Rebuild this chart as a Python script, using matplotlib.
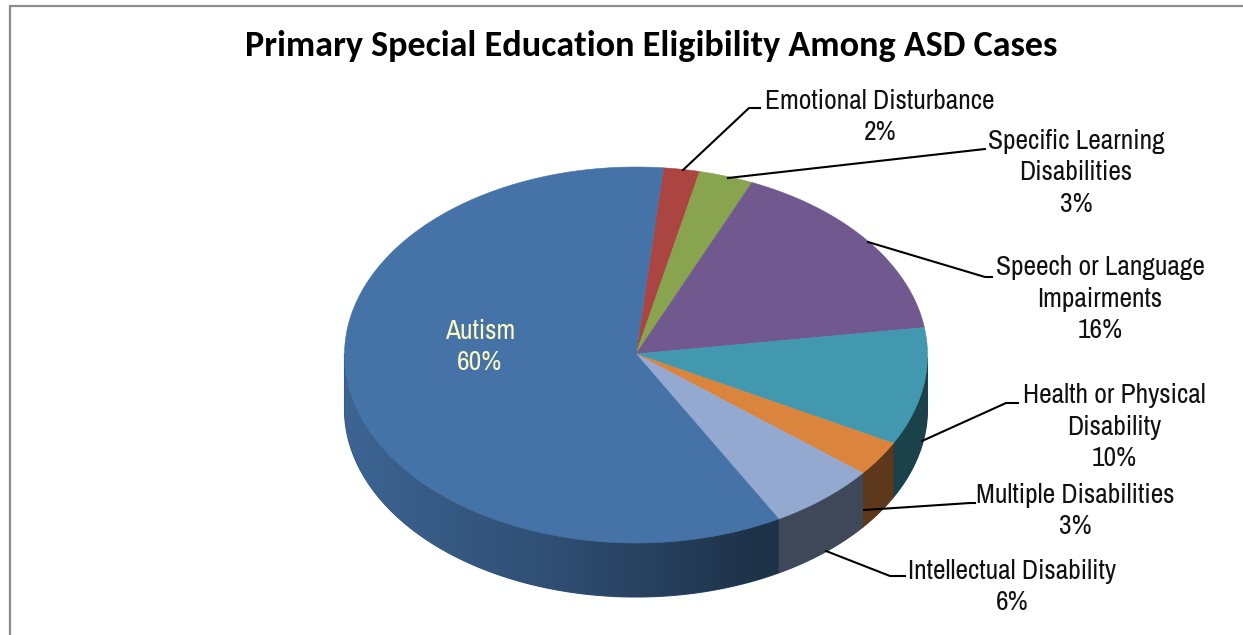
import numpy as np
import matplotlib
matplotlib.use("Agg")
import matplotlib.pyplot as plt
from matplotlib import font_manager as fm
from matplotlib.colors import to_rgb
from matplotlib.patches import Polygon

# data, clockwise starting from the top
names = ["Emotional Disturbance", "Specific Learning\nDisabilities",
         "Speech or Language\nImpairments", "Health or Physical\nDisability",
         "Multiple Disabilities", "Intellectual Disability", "Autism"]
values = [2, 3, 16, 10, 3, 6, 60]
colors = ["#ab4542", "#88a44f", "#71588f", "#4198af", "#db843d", "#93a9cf", "#4572a7"]

START = 5.4
CX, CY, RX, RY, DEPTH = 636, 355, 291.5, 188, 54
APEX_Y = 354


def has_font(name):
    try:
        fm.findfont(name, fallback_to_default=False)
        return True
    except ValueError:
        return False


# the narrow face is not on every machine, plain Liberation needs a smaller size
if has_font("Archivo Narrow"):
    LABEL_FONT, LABEL_SIZE, LABEL_SPACING = ["Archivo Narrow", "DejaVu Sans"], 19.8, 1.3
else:
    LABEL_FONT, LABEL_SIZE, LABEL_SPACING = ["Liberation Sans", "DejaVu Sans"], 16.5, 1.6
if has_font("Carlito"):
    TITLE_FONT, TITLE_SIZE = ["Carlito", "DejaVu Sans"], 26
else:
    TITLE_FONT, TITLE_SIZE = ["Lato", "DejaVu Sans"], 24

fig = plt.figure(figsize=(12.43, 6.35), dpi=100)
ax = fig.add_axes([0, 0, 1, 1])
ax.set_xlim(0, 1243)
ax.set_ylim(635, 0)
ax.axis("off")

# chart frame, only left and top are in the crop
ax.plot([10, 10, 1243], [635, 6, 6], color="#8c8c8c", lw=1.6, solid_joinstyle="miter")


def rim(a):
    # small perspective shift, the front of the pie looks wider
    a = np.asarray(a, dtype=float)
    a = np.radians(a + 1.4 * np.sin(np.radians(a / 2)) ** 2)
    return CX + RX * np.sin(a), CY - RY * np.cos(a)


xgrid = np.linspace(CX - RX, CX + RX, 600)
shade = np.interp(xgrid, [CX - RX, 560, 760, CX + RX], [0.88, 0.68, 0.43, 0.43])

# walls first, gradient image cut by the wall outline
angles = START + np.cumsum([0] + values) * 3.6
for i in range(len(values)):
    a0, a1 = angles[i], angles[i + 1]
    aa = np.linspace(a0, a1, max(values[i] * 6, 12))
    aa = aa[(aa % 360 >= 90) & (aa % 360 <= 270)]
    if len(aa) < 2:
        continue
    xs, ys = rim(aa)
    pts = np.column_stack([np.r_[xs, xs[::-1]], np.r_[ys, ys[::-1] + DEPTH]])
    base = np.array(to_rgb(colors[i]))
    wall_col = tuple(base * np.interp(xs.mean(), xgrid, shade))
    # plain fill under the image, stops light seams between the walls
    ax.add_patch(Polygon(pts, closed=True, fc=wall_col, ec=wall_col, lw=0.8, zorder=1.5))
    strip = (shade[:, None] * base)[None, :, :]
    im = ax.imshow(strip, extent=[xgrid[0], xgrid[-1], CY + RY + DEPTH + 2, CY - 2],
                   aspect="auto", interpolation="bilinear", zorder=2)
    outline = Polygon(pts, closed=True, fc="none", ec="none", transform=ax.transData)
    ax.add_patch(outline)
    im.set_clip_path(outline)
ax.set_xlim(0, 1243)
ax.set_ylim(635, 0)

# top of the pie
for i in range(len(values)):
    aa = np.linspace(angles[i], angles[i + 1], max(values[i] * 4, 8))
    xs, ys = rim(aa)
    pts = np.column_stack([np.r_[CX, xs], np.r_[APEX_Y, ys]])
    ax.add_patch(Polygon(pts, closed=True, fc=colors[i], ec=colors[i], lw=0.4, zorder=3))

# leader lines
leaders = [
    ([683, 749, 760], [170, 108, 108]),
    ([728, 985], [178, 149]),
    ([868, 985, 992], [242, 277, 277]),
    ([922, 1006, 1018], [441, 403, 403]),
    ([864, 970, 975], [510, 503, 503]),
    ([826, 890, 905], [551, 576, 576]),
]
for lx, ly in leaders:
    ax.plot(lx, ly, color="black", lw=1.5, zorder=4)

label_pos = [(880, 117), (1076, 173), (1100, 299), (1114, 427), (1075, 511), (1012, 587), (480, 347)]
for i, (x, y) in enumerate(label_pos):
    is_autism = names[i] == "Autism"
    ax.text(x, y, f"{names[i]}\n{values[i]}%", ha="center", va="center", family=LABEL_FONT,
            fontsize=LABEL_SIZE, linespacing=LABEL_SPACING,
            color="#fdf8c0" if is_autism else "#111111", zorder=5)

ax.text(651, 46, "Primary Special Education Eligibility Among ASD Cases", ha="center", va="center",
        family=TITLE_FONT, fontweight="bold", fontsize=TITLE_SIZE, color="black")

fig.savefig("out.png", dpi=100)
